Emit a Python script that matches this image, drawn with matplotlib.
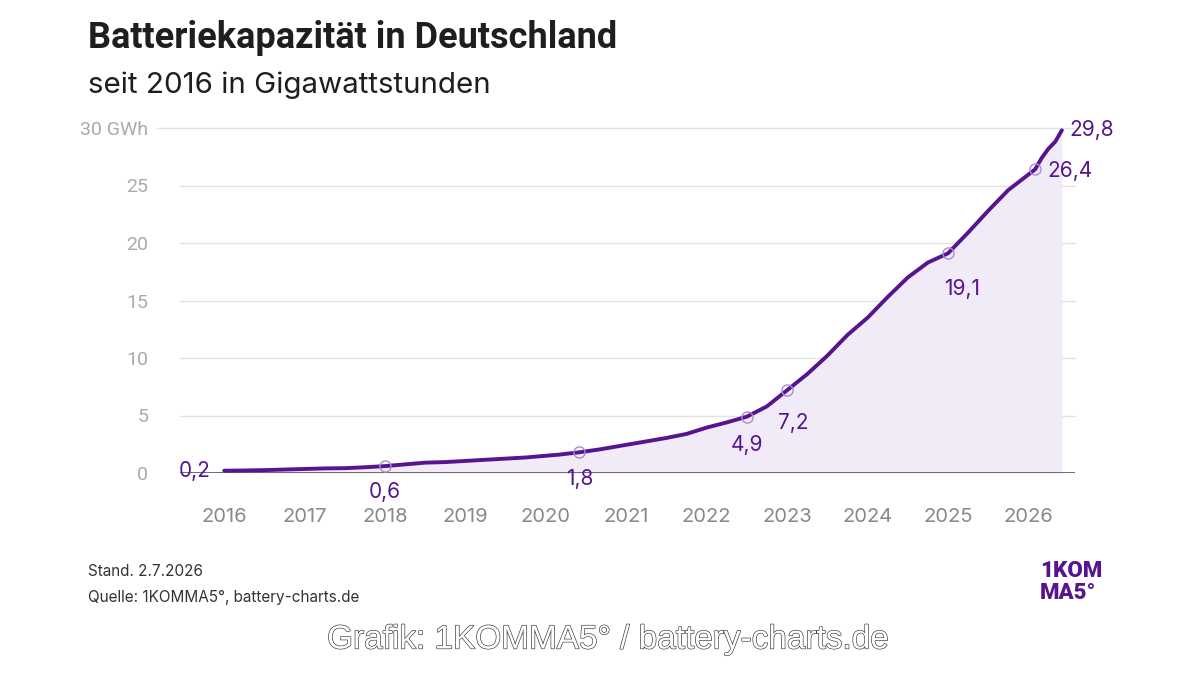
import matplotlib
matplotlib.use("Agg")
import matplotlib.pyplot as plt
import matplotlib.patheffects as pe

# Batteriekapazität in GWh (Jahr, Monat)
years = [2016, 2016, 2016, 2016, 2017, 2017, 2017, 2017, 2018, 2018, 2018, 2018,
         2019, 2019, 2019, 2019, 2020, 2020, 2020, 2020, 2021, 2021, 2021, 2021,
         2022, 2022, 2022, 2022, 2023, 2023, 2023, 2023, 2024, 2024, 2024, 2024,
         2025, 2025, 2025, 2025, 2026, 2026, 2026, 2026, 2026]
months = [1, 4, 7, 10, 1, 4, 7, 10, 1, 4, 7, 10,
          1, 4, 7, 10, 1, 3, 6, 9, 1, 4, 7, 10,
          1, 4, 7, 10, 1, 4, 7, 10, 1, 4, 7, 10,
          1, 4, 7, 10, 2, 3, 4, 5, 6]
capacity = [0.2, 0.22, 0.25, 0.3, 0.35, 0.4, 0.42, 0.5, 0.6, 0.75, 0.9, 0.95,
            1.05, 1.15, 1.25, 1.35, 1.5, 1.6, 1.8, 2.05, 2.45, 2.75, 3.05, 3.4,
            3.95, 4.4, 4.9, 5.8, 7.2, 8.6, 10.2, 12.0, 13.5, 15.3, 17.0, 18.3,
            19.1, 20.9, 22.8, 24.6, 26.4, 27.4, 28.2, 28.8, 29.8]

# markierte Punkte: (Index in den Daten, Text, dx px, dy px, ha)
highlights = [(0, "0,2", -14, 0, "right"),
              (8, "0,6", 0, -26, "center"),
              (18, "1,8", 0, -27, "center"),
              (26, "4,9", 0, -28, "center"),
              (28, "7,2", 6, -33, "center"),
              (36, "19,1", 14, -36, "center"),
              (40, "26,4", 12, -2, "left"),
              (44, "29,8", 8, 0, "left")]

year_ticks = list(range(2016, 2027))
y_ticks = [0, 5, 10, 15, 20, 25, 30]

x = [y + (m - 1) / 12 for y, m in zip(years, months)]

PURPLE = "#56148f"
FILL = "#f1ebf7"

plt.rcParams["font.family"] = ["Inter", "DejaVu Sans"]

fig = plt.figure(figsize=(12, 6.75), dpi=100)
ax = fig.add_axes([180 / 1200, 1 - 473 / 675, 895 / 1200, 345 / 675])

ax.set_xlim(2015.45, 2026.58)
ax.set_ylim(0, 30)

for v in y_ticks[1:]:
    xmin = -23 / 895 if v == 30 else 0
    ax.axhline(v, xmin=xmin, xmax=1, color="#e4e4e4", lw=1, zorder=0, clip_on=False)
ax.axhline(0, color="#555555", lw=1.2, zorder=3)

ax.fill_between(x, capacity, 0, color=FILL, lw=0, zorder=1)
ax.plot(x, capacity, color=PURPLE, lw=2.8, solid_capstyle="round",
        solid_joinstyle="round", zorder=4, clip_on=False)

for i, label, dx, dy, ha in highlights:
    if i not in (0, 44):
        ax.plot(x[i], capacity[i], "o", ms=8, mfc="none", mec="#a88cd0",
                mew=1, zorder=5, clip_on=False)
    ax.annotate(label, (x[i], capacity[i]), xytext=(dx * 0.72, dy * 0.72),
                textcoords="offset points", ha=ha, va="center", color=PURPLE,
                fontsize=15, zorder=6, annotation_clip=False)

ax.set_xticks(year_ticks)
ax.set_xticklabels([str(y) for y in year_ticks], color="#888888", fontsize=14.5)
ax.set_yticks(y_ticks)
ax.set_yticklabels([str(v) if v < 30 else "30 GWh" for v in y_ticks],
                   color="#aaaaaa", fontsize=14, family=["Roboto", "DejaVu Sans"])
ax.tick_params(axis="x", length=0, pad=25)
ax.tick_params(axis="y", length=0, pad=23)
for s in ax.spines.values():
    s.set_visible(False)

fig.text(88 / 1200, 1 - 38 / 675, "Batteriekapazität in Deutschland",
         family=["Roboto", "DejaVu Sans"], fontsize=26, fontweight="bold",
         color="#1e1e1e", va="center")
fig.text(88 / 1200, 1 - 85 / 675, "seit 2016 in Gigawattstunden",
         fontsize=21.3, color="#1e1e1e", va="center")

fig.text(88 / 1200, 1 - 572 / 675, "Stand. 2.7.2026", fontsize=11,
         color="#333333", va="center")
fig.text(88 / 1200, 1 - 597 / 675, "Quelle: 1KOMMA5°, battery-charts.de",
         fontsize=11, color="#333333", va="center")

fig.text(1040 / 1200, 1 - 571 / 675, "1KOM", family=["Roboto", "DejaVu Sans"],
         fontsize=16, fontweight="black", color=PURPLE, va="center")
fig.text(1040 / 1200, 1 - 593 / 675, "MA5°", family=["Roboto", "DejaVu Sans"],
         fontsize=16, fontweight="black", color=PURPLE, va="center")

fig.text(608 / 1200, 1 - 640 / 675, "Grafik: 1KOMMA5° / battery-charts.de",
         family=["Liberation Sans", "DejaVu Sans"], fontsize=24, color="white",
         ha="center", va="center",
         path_effects=[pe.withStroke(linewidth=0.9, foreground="#333333")])

fig.savefig("out.png", dpi=100, facecolor="white")
plt.close(fig)
